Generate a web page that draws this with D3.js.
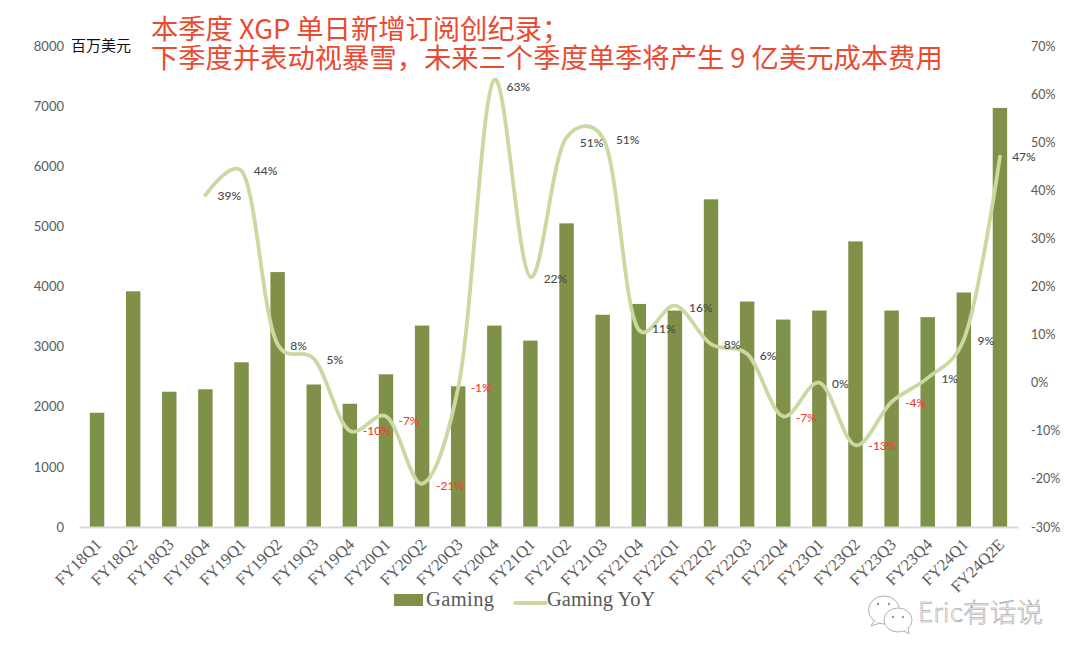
<!DOCTYPE html>
<html>
<head>
<meta charset="utf-8">
<script src="https://cdn.jsdelivr.net/npm/d3@7/dist/d3.min.js"></script>
<style>
html,body{margin:0;padding:0;background:#fff;}
svg{display:block;}
</style>
</head>
<body>
<svg id="chart" width="1080" height="661"></svg>
<script>
// Quarterly gaming revenue (US$ m) with year-on-year growth
const quarters = ["FY18Q1","FY18Q2","FY18Q3","FY18Q4","FY19Q1","FY19Q2","FY19Q3","FY19Q4","FY20Q1","FY20Q2","FY20Q3","FY20Q4","FY21Q1","FY21Q2","FY21Q3","FY21Q4","FY22Q1","FY22Q2","FY22Q3","FY22Q4","FY23Q1","FY23Q2","FY23Q3","FY23Q4","FY24Q1","FY24Q2E"];
const gaming = [1900,3920,2250,2290,2740,4240,2370,2050,2540,3350,2340,3350,3100,5050,3530,3710,3600,5450,3750,3450,3600,4750,3600,3490,3900,6970];
const gamingYoY = [null,null,null,39,44,8,5,-10,-7,-21,-1,63,22,51,51,11,16,8,6,-7,0,-13,-4,1,9,47];
const leftTicks = [0,1000,2000,3000,4000,5000,6000,7000,8000];
const rightTicks = [-30,-20,-10,0,10,20,30,40,50,60,70];
const titleLines = ["本季度 XGP 单日新增订阅创纪录；","下季度并表动视暴雪，未来三个季度单季将产生 9 亿美元成本费用"];
const unitLabel = "百万美元";

// Nudges that keep each growth label clear of the line
const labelNudge = [null,null,null,[24,1],[24,0],[21,2],[21,1],[27,0],[23,4],[28,2],[23,0],[24,7],[25,2],[25,5],[25,2],[25,-1],[26,2],[21,1],[21,2],[23,1],[21,1],[27,1],[24,1],[22,1],[22,1],[24,0]];

const svg = d3.select("#chart");
const plot = {left:79, right:1018, top:46, bottom:527};
const barColor = "#7f9149", lineColor = "#c9d9a1", textColor = "#595959";
const sansFont = "Lato, 'Open Sans', sans-serif";
const serifFont = "'Liberation Serif', serif";
const cjkFont = "'Noto Sans CJK SC', sans-serif";

const x = d3.scaleBand().domain(quarters).range([plot.left, plot.right]).paddingInner(0.6).paddingOuter(0.3);
const yLeft = d3.scaleLinear().domain([0,8000]).range([plot.bottom, plot.top]);
const yRight = d3.scaleLinear().domain([-30,70]).range([plot.bottom, plot.top]);
const cx = d => x(d) + x.bandwidth()/2;

// Columns
svg.append("g").selectAll("rect").data(quarters).join("rect")
  .attr("x", d => x(d))
  .attr("width", x.bandwidth())
  .attr("y", (d,i) => yLeft(gaming[i]))
  .attr("height", (d,i) => plot.bottom - yLeft(gaming[i]))
  .attr("fill", barColor);

// Left value axis
const axisL = svg.append("g").attr("transform", `translate(${plot.left},0)`)
  .call(d3.axisLeft(yLeft).tickValues(leftTicks).tickSize(0).tickPadding(15).tickFormat(d3.format("d")));
axisL.select(".domain").remove();
axisL.selectAll("text").attr("font-family", sansFont).attr("font-size", 13).attr("fill", textColor);

// Right percentage axis
const axisR = svg.append("g").attr("transform", `translate(${plot.right},0)`)
  .call(d3.axisRight(yRight).tickValues(rightTicks).tickSize(0).tickPadding(13).tickFormat(d => d + "%"));
axisR.select(".domain").remove();
axisR.selectAll("text").attr("font-family", sansFont).attr("font-size", 12.5).attr("fill", textColor);

// Category axis with slanted labels
const axisB = svg.append("g").attr("transform", `translate(0,${plot.bottom})`)
  .call(d3.axisBottom(x).tickSize(0).tickPadding(0));
axisB.select(".domain").attr("stroke", "#d9d9d9").attr("stroke-width", 2);
axisB.selectAll("text")
  .attr("font-family", serifFont).attr("font-size", 16.5).attr("fill", textColor)
  .attr("text-anchor", "end").attr("dy", null)
  .attr("transform", "translate(2,15) rotate(-45) translate(0,5)");

// Smoothed growth line
const yoyPoints = quarters.map((q,i) => ({q, v:gamingYoY[i], n:labelNudge[i]})).filter(d => d.v !== null);
const line = d3.line().x(d => cx(d.q)).y(d => yRight(d.v)).curve(d3.curveCatmullRom.alpha(0.25));
svg.append("path").datum(yoyPoints).attr("d", line)
  .attr("fill", "none").attr("stroke", lineColor).attr("stroke-width", 3.8).attr("stroke-linecap", "round");

// Growth labels, negatives in red
svg.append("g").selectAll("text").data(yoyPoints).join("text")
  .attr("x", d => cx(d.q) + d.n[0])
  .attr("y", d => yRight(d.v) + d.n[1])
  .attr("dy", "0.35em")
  .attr("text-anchor", "middle")
  .attr("font-family", sansFont).attr("font-size", 12).attr("font-weight", 500)
  .attr("fill", d => d.v < 0 ? "#f23a32" : "#4a4a4a")
  .text(d => d.v + "%");

// Two-line headline and unit
svg.append("text")
  .attr("font-family", cjkFont).attr("font-size", 27.3).attr("fill", "#ea4a30")
  .selectAll("tspan").data(titleLines).join("tspan")
  .attr("x", 151)
  .attr("y", (d,i) => 38.5 + i*29.5)
  .text(d => d);
svg.append("text").attr("x", 71).attr("y", 51)
  .attr("font-family", cjkFont).attr("font-size", 15).attr("fill", "#111").text(unitLabel);

// Legend
const legend = svg.append("g");
legend.append("rect").attr("x", 394).attr("y", 594).attr("width", 29).attr("height", 12).attr("fill", barColor);
legend.append("text").attr("x", 426).attr("y", 606).attr("font-family", serifFont).attr("font-size", 20.5)
  .attr("letter-spacing", 0.4).attr("fill", textColor).text("Gaming");
legend.append("line").attr("x1", 515).attr("x2", 546).attr("y1", 603).attr("y2", 603)
  .attr("stroke", lineColor).attr("stroke-width", 3.8).attr("stroke-linecap", "round");
legend.append("text").attr("x", 547).attr("y", 606).attr("font-family", serifFont).attr("font-size", 20.5)
  .attr("fill", textColor).text("Gaming YoY");

// Account mark: two speech bubbles and the account name
const mark = svg.append("g").attr("fill", "#fff").attr("stroke", "#a9a9a9").attr("stroke-width", 0.9);
mark.append("ellipse").attr("cx", 884).attr("cy", 610).attr("rx", 15.5).attr("ry", 14);
mark.append("path").attr("d", "M874 621 L871 626 L880 623");
mark.append("ellipse").attr("cx", 898).attr("cy", 620).attr("rx", 14).attr("ry", 12);
mark.append("path").attr("d", "M904 631 L909 634 L908 627");
[[878,604],[889,604],[893,617],[903,617]].forEach(p => {
  mark.append("circle").attr("cx", p[0]).attr("cy", p[1]).attr("r", 1.2).attr("fill", "#999").attr("stroke", "none");
});
svg.append("text").attr("x", 918).attr("y", 622)
  .attr("font-family", cjkFont).attr("font-size", 26.7).attr("font-weight", 300)
  .attr("fill", "#fff").attr("stroke", "#8f8f8f").attr("stroke-width", 0.5)
  .text("Eric有话说");
</script>
</body>
</html>
